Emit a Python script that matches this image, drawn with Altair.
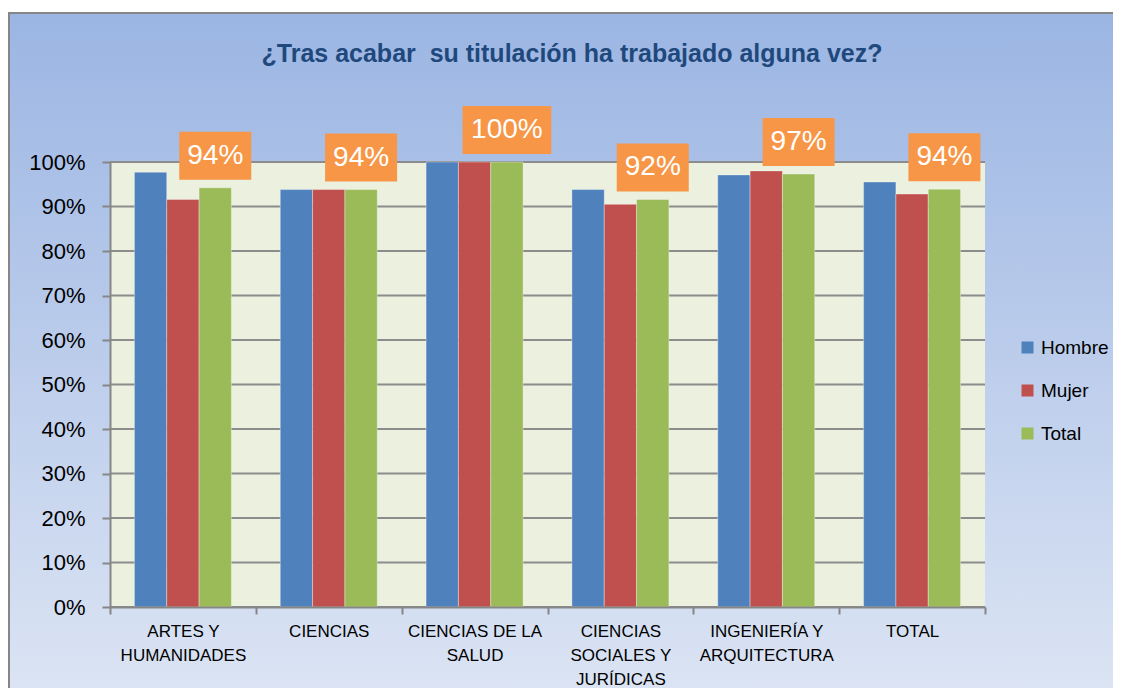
import altair as alt
import pandas as pd

categories = ["ARTES Y\nHUMANIDADES", "CIENCIAS", "CIENCIAS DE LA\nSALUD",
              "CIENCIAS\nSOCIALES Y\nJURÍDICAS", "INGENIERÍA Y\nARQUITECTURA", "TOTAL"]
series = ["Hombre", "Mujer", "Total"]
hombre = [0.977, 0.938, 1.0, 0.938, 0.971, 0.955]
mujer = [0.916, 0.938, 1.0, 0.905, 0.980, 0.928]
total = [0.942, 0.938, 1.0, 0.916, 0.973, 0.939]
y_ticks = [0.0, 0.1, 0.2, 0.3, 0.4, 0.5, 0.6, 0.7, 0.8, 0.9, 1.0]
colors = ["#4F81BD", "#C0504D", "#9BBB59"]
title_text = "¿Tras acabar\u00a0 su titulación ha trabajado alguna vez?"

FONT = "Liberation Sans"
W, H = 875, 445

rows = []
for i, c in enumerate(categories):
    for s, vals in zip(series, [hombre, mujer, total]):
        rows.append({"cat": c, "series": s, "value": vals[i]})
df = pd.DataFrame(rows)
df_total = pd.DataFrame({"cat": categories, "series": ["Total"] * len(categories), "value": total})
df_ticks = pd.DataFrame({"value": y_ticks})
one = pd.DataFrame({"a": [0]})

y_scale = alt.Scale(domain=[0, 1], nice=False)
x_scale = alt.Scale(paddingInner=0, paddingOuter=0)
off_scale = alt.Scale(domain=series, paddingInner=0, paddingOuter=0.755)

x_axis = alt.Axis(title=None, labelAngle=0,
                  labelExpr="datum.value ? split(datum.value, '\\n') : ''",
                  tickBand="extent", tickSize=7, tickColor="#868686", tickWidth=2,
                  domainColor="#868686", domainWidth=2, labelFontSize=17,
                  labelFont=FONT, labelColor="black", labelPadding=9,
                  labelLineHeight=24, labelBaseline="top", zindex=1, grid=False)
y_axis = alt.Axis(title=None, format=".0%", values=y_ticks, grid=False,
                  tickSize=8, tickColor="#868686", tickWidth=2,
                  domainColor="#868686", domainWidth=2, labelFontSize=22,
                  labelFont=FONT, labelColor="black", labelPadding=17, zindex=1)

x_enc = alt.X("cat:N", sort=categories, scale=x_scale, axis=x_axis)
y_enc = alt.Y("value:Q", scale=y_scale, axis=y_axis)
xoff = alt.XOffset("series:N", sort=series, scale=off_scale)

bg = alt.Chart(one).mark_rect(
    fill=alt.Gradient(gradient="linear", x1=0, y1=0, x2=0, y2=1,
                      stops=[alt.GradientStop(offset=0, color="#9BB5E3"),
                             alt.GradientStop(offset=1, color="#DDE5F4")]),
    stroke="#868686", strokeWidth=2
).encode(x=alt.value(-101), x2=alt.value(W + 140), y=alt.value(-149), y2=alt.value(H + 100))

plotbg = alt.Chart(one).mark_rect(fill="#EBF0DF").encode(
    x=alt.value(0), x2=alt.value(W), y=alt.value(0), y2=alt.value(H))

grid = alt.Chart(df_ticks).mark_rule(color="#8C8C8C", strokeWidth=2).encode(y=y_enc)

bars = alt.Chart(df).mark_bar(stroke="white", strokeOpacity=0.35, strokeWidth=1).encode(
    x=x_enc, xOffset=xoff, y=y_enc,
    color=alt.Color("series:N", sort=series, scale=alt.Scale(domain=series, range=colors),
                    legend=alt.Legend(title=None, orient="none", legendX=908, legendY=176,
                                      symbolType="square", symbolSize=144, symbolStrokeWidth=0,
                                      labelFontSize=19, labelFont=FONT, labelColor="black",
                                      rowPadding=23, padding=0, zindex=1, labelOffset=4))
)

narrow = "M-1.5,-1H1.5V1H-1.5Z"
wide = "M-1.85,-1H1.85V1H-1.85Z"
boxes = alt.Chart(df_total).mark_point(filled=True, fill="#F79646", opacity=1, size=2304,
                                       strokeWidth=0, yOffset=-32).encode(
    x=x_enc, xOffset=xoff, y=y_enc,
    shape=alt.condition("datum.value >= 0.995", alt.value(wide), alt.value(narrow)))

texts = alt.Chart(df_total).mark_text(color="white", fontSize=28, font=FONT, yOffset=-32,
                                      baseline="middle", align="center").encode(
    x=x_enc, xOffset=xoff, y=y_enc,
    text=alt.Text("value:Q", format=".0%"))

title = alt.Chart(one).mark_text(text=title_text, fontSize=25, fontWeight="bold", font=FONT,
                                 color="#1F497D", align="center", baseline="middle").encode(
    x=alt.value(462), y=alt.value(-108))

chart = alt.layer(bg, plotbg, grid, bars, boxes, texts, title).properties(
    width=W, height=H,
    autosize=alt.AutoSizeParams(type="none"),
    padding={"left": 102, "top": 154, "right": 128, "bottom": 81},
).configure_view(stroke=None).configure(background="white")

chart.save("out.html", embed_options={"renderer": "svg", "actions": False})
